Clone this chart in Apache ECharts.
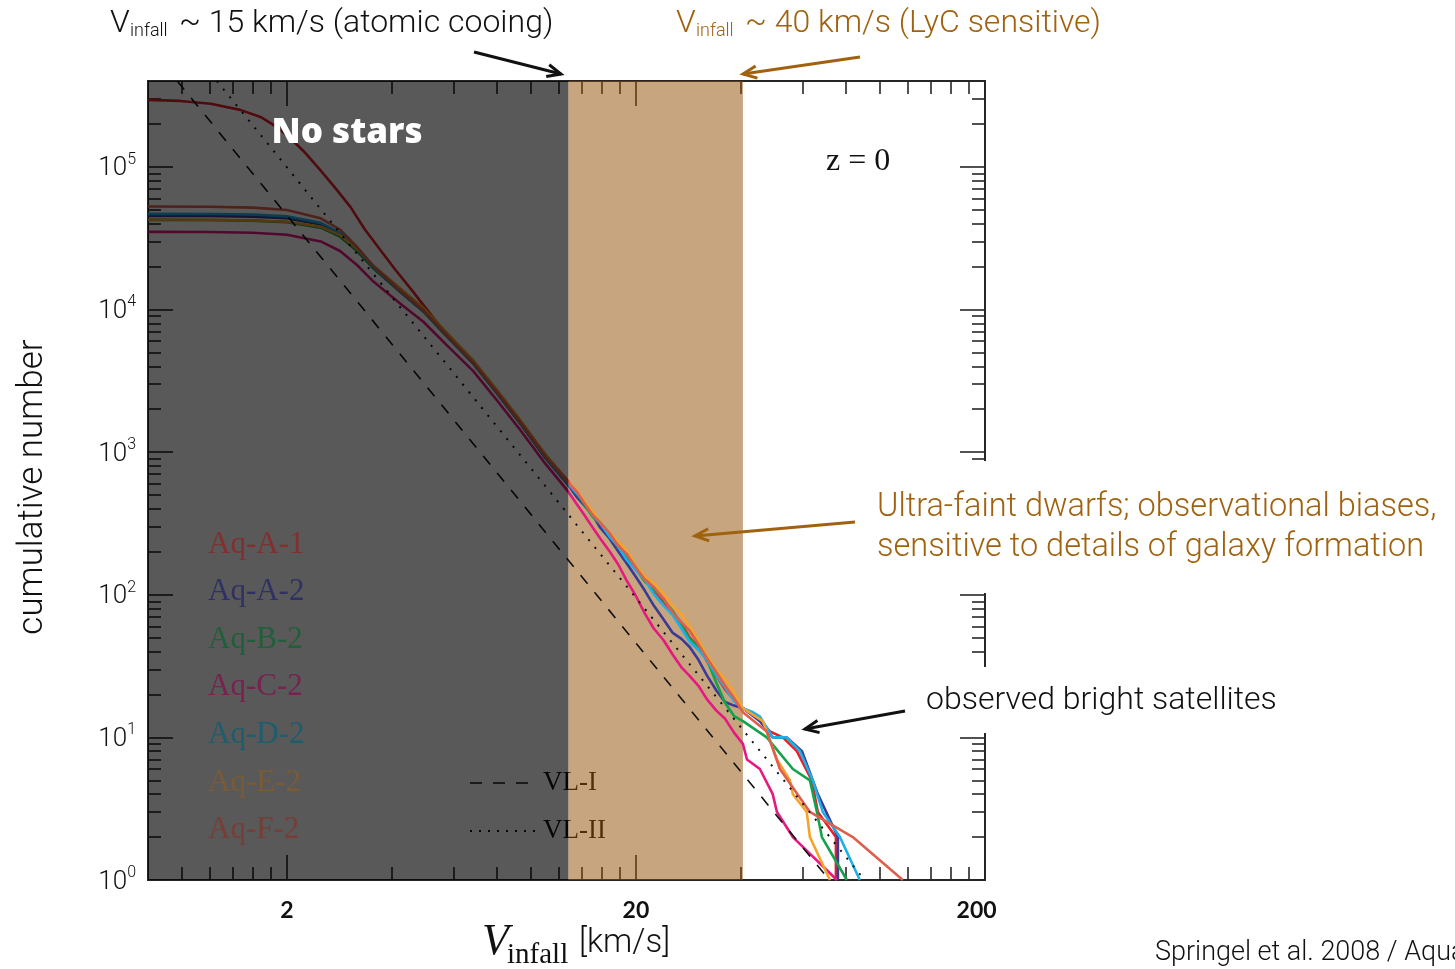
<!DOCTYPE html>
<html>
<head>
<meta charset="utf-8">
<script src="https://cdn.jsdelivr.net/npm/echarts@6/dist/echarts.min.js"></script>
<style>
  html, body { margin: 0; padding: 0; background: #ffffff; }
  #chart { width: 1455px; height: 969px; }
</style>
</head>
<body>
<div id="chart"></div>
<script>
// Cumulative number of subhalos above a given infall velocity, Aquarius halos at z = 0.

const halos = ['Aq-A-1', 'Aq-A-2', 'Aq-B-2', 'Aq-C-2', 'Aq-D-2', 'Aq-E-2', 'Aq-F-2'];

// infall velocity samples (km/s)
const vInner   = [0.8, 1.2, 1.6, 2.0, 2.5, 2.84, 3.17, 3.54, 4.22, 4.92, 5.75, 6.84, 8.0, 9.3, 11.0];
const vInnerA1 = [0.8, 0.99, 1.21, 1.47, 1.68, 1.85, 2.04, 2.26, 2.49, 2.75, 3.04, 3.35, 3.70, 4.09, 4.60, 5.75, 6.84, 8.0, 9.3, 11.0];
const vMid     = [12.8, 13.5, 14.2, 15.0, 15.8, 16.8, 17.8, 18.8, 20.0, 21.2, 22.5, 24.0, 25.5, 27.0, 28.5, 30.2, 32.0, 34.0, 36.0, 38.2, 40.5];

// Aq-A-1
const nInnerA1 = [295000, 290000, 277000, 251000, 224000, 194000, 160000, 125000, 95300, 71300, 52400, 36200, 26200, 19000, 13300, 6600, 4300, 2680, 1660, 960];
const nMidA1   = [624, 508, 443, 383, 310, 264, 227, 184, 154, 134, 107, 89, 76, 63, 50, 43.5, 34, 26.9, 21.7, 18.4, 16];
const vTailA1  = [44.4, 48.4, 52.7, 57.8, 63.8, 66.4, 74.8, 74.8];
const nTailA1  = [14, 11, 10, 8, 5, 3, 2, 1];
// Aq-A-2
const nInnerA2 = [45300, 45200, 44800, 43600, 39400, 33600, 26300, 19500, 13300, 9700, 6450, 4170, 2580, 1600, 910];
const nMidA2   = [588, 488, 425, 365, 295, 248, 201, 166, 133, 107, 84, 67, 54, 49, 43, 35, 27, 21.3, 17.7, 16.7, 16];
const vTailA2  = [45.3, 49.3, 54.1, 59.8, 64.2, 66.4, 75.8, 75.8];
const nTailA2  = [13, 10, 10, 8, 5, 4, 2, 1];
// Aq-B-2
const nInnerB2 = [42500, 42400, 42000, 41000, 37500, 32400, 25800, 19400, 13400, 9750, 6480, 4190, 2600, 1610, 920];
const nMidB2   = [600, 523, 434, 354, 316, 266, 214, 189, 151, 124, 109, 92, 77, 61, 49, 42.6, 34.7, 24.1, 17.5, 14.1, 13];
const vTailB2  = [47.4, 56.3, 63.0, 66.0, 68.2, 80.4];
const nTailB2  = [10, 6, 5, 3, 2, 1];
// Aq-C-2
const nInnerC2 = [35000, 34900, 34500, 33400, 30000, 25700, 20600, 15700, 11000, 8200, 5600, 3700, 2300, 1440, 830];
const nMidC2   = [528, 437, 365, 299, 248, 202, 163, 126, 98, 74, 58, 48, 38, 31, 27, 23, 18.4, 15.4, 13.5, 10.8, 9];
const vTailC2  = [41.6, 45.3, 49.3, 50.7, 56.3, 75.3];
const nTailC2  = [7, 6, 4, 3, 2, 1];
// Aq-D-2
const nInnerD2 = [46800, 46700, 46300, 45000, 40500, 34400, 26800, 19800, 13500, 9800, 6500, 4200, 2600, 1620, 930];
const nMidD2   = [600, 518, 451, 365, 319, 256, 218, 176, 148, 128, 101, 84, 72, 58, 47, 41, 34.7, 27.2, 22.4, 18.0, 16];
const vTailD2  = [43.3, 45.3, 49.3, 54.1, 59.0, 64.2, 68.6, 76.8, 87.6];
const nTailD2  = [15, 14, 10, 10, 8, 5, 3, 2, 1];
// Aq-E-2
const nInnerE2 = [42600, 42500, 42100, 41200, 38000, 33200, 26800, 20300, 14100, 10300, 6850, 4400, 2720, 1690, 965];
const nMidE2   = [612, 549, 456, 387, 322, 274, 235, 205, 161, 134, 121, 102, 83, 73, 60, 48, 37.4, 29.7, 25.5, 20.6, 16];
const vTailE2  = [46.2, 50.7, 55.2, 56.3, 61.7, 63.0, 71.9];
const nTailE2  = [13, 7, 5, 4, 3, 2, 1];
// Aq-F-2
const nInnerF2 = [52700, 52500, 51800, 49800, 43600, 36300, 27600, 20100, 13600, 9850, 6550, 4230, 2620, 1630, 935];
const nMidF2   = [612, 533, 443, 365, 322, 271, 220, 194, 155, 128, 113, 94, 75, 64, 56, 45, 35.7, 28.6, 23.1, 18.8, 15];
const vTailF2  = [47.4, 51.7, 63.0, 83.6, 116.3];
const nTailF2  = [11, 6, 3, 2, 1];

// Via Lactea I / II reference power laws (end points)
const vVL1 = [0.97, 71.6];
const nVL1 = [400000, 1];
const vVL2 = [1.26, 90.4];
const nVL2 = [400000, 1];

// shaded velocity ranges (km/s)
const noStarsRange = [0.8, 12.8];
const lycRange = [12.8, 40.5];

// axis ticks
const xMajorTicks = [2, 20, 200];
const xMinorTicks = [1, 1.2, 1.4, 1.6, 1.8, 4, 6, 8, 10, 12, 14, 16, 18, 40, 60, 80, 100, 120, 140, 160, 180];
const yMajorTicks = [1, 10, 100, 1000, 10000, 100000];
const yMinorTicks = [2, 3, 4, 5, 6, 7, 8, 9,
  20, 30, 40, 50, 60, 70, 80, 90,
  200, 300, 400, 500, 600, 700, 800, 900,
  2000, 3000, 4000, 5000, 6000, 7000, 8000, 9000,
  20000, 30000, 40000, 50000, 60000, 70000, 80000, 90000,
  200000, 300000];

const X_MIN = 0.8, X_MAX = 200, Y_MIN = 1, Y_MAX = 400000;

const lineColors = ['#e4222b', '#3d3a97', '#14a24b', '#e5197f', '#1bb0e8', '#f4a42a', '#df5f4e'];
const legendColors = ['#82302f', '#2f3164', '#215f3a', '#78224f', '#1d5d6e', '#7a5b36', '#763e36'];
const BROWN = '#a1620f';
const FRAME = '#262626';

function pts(vs, ns) { return vs.map((v, i) => [v, ns[i]]); }

const haloData = [
  pts(vInnerA1, nInnerA1).concat(pts(vMid, nMidA1), pts(vTailA1, nTailA1)),
  pts(vInner, nInnerA2).concat(pts(vMid, nMidA2), pts(vTailA2, nTailA2)),
  pts(vInner, nInnerB2).concat(pts(vMid, nMidB2), pts(vTailB2, nTailB2)),
  pts(vInner, nInnerC2).concat(pts(vMid, nMidC2), pts(vTailC2, nTailC2)),
  pts(vInner, nInnerD2).concat(pts(vMid, nMidD2), pts(vTailD2, nTailD2)),
  pts(vInner, nInnerE2).concat(pts(vMid, nMidE2), pts(vTailE2, nTailE2)),
  pts(vInner, nInnerF2).concat(pts(vMid, nMidF2), pts(vTailF2, nTailF2))
];

function xAxisDef(position, ticks, len, withLabels) {
  return {
    type: 'log', logBase: 10, min: X_MIN, max: X_MAX, position: position, gridIndex: 0,
    axisLine: { show: true, onZero: false, lineStyle: { color: FRAME, width: 2 } },
    axisTick: { show: true, inside: true, length: len, customValues: ticks, lineStyle: { color: FRAME, width: 1.6 } },
    axisLabel: withLabels ? {
      show: true, customValues: ticks, margin: 19,
      fontFamily: 'Lato', fontWeight: 'bold', fontSize: 23, color: '#111',
      formatter: v => (v === 200 ? '200   ' : String(v))
    } : { show: false },
    splitLine: { show: false }, minorTick: { show: false }
  };
}
function yAxisDef(position, ticks, len, withLabels) {
  return {
    type: 'log', logBase: 10, min: Y_MIN, max: Y_MAX, position: position, gridIndex: 0,
    axisLine: { show: true, onZero: false, lineStyle: { color: FRAME, width: 2 } },
    axisTick: { show: true, inside: true, length: len, customValues: ticks, lineStyle: { color: FRAME, width: 1.6 } },
    axisLabel: withLabels ? {
      show: true, customValues: ticks, margin: 12,
      formatter: v => '{b|10}{s|' + Math.round(Math.log10(v)) + '}',
      rich: {
        b: { fontFamily: 'Roboto', fontWeight: 300, fontSize: 26, color: '#111', lineHeight: 30, verticalAlign: 'bottom' },
        s: { fontFamily: 'Roboto', fontWeight: 300, fontSize: 16, color: '#111', lineHeight: 30, verticalAlign: 'top' }
      }
    } : { show: false },
    splitLine: { show: false }, minorTick: { show: false }
  };
}

const series = halos.map((name, i) => ({
  type: 'line', name: name, data: haloData[i], xAxisIndex: 0, yAxisIndex: 0,
  symbol: 'none', showSymbol: false, z: 2, clip: true,
  lineStyle: { color: lineColors[i], width: 2.6 }
}));

series.push({
  type: 'line', name: 'VL-I', data: pts(vVL1, nVL1), xAxisIndex: 0, yAxisIndex: 0,
  symbol: 'none', z: 2, clip: true,
  lineStyle: { color: '#111', width: 1.6, type: [11, 11] }
});
series.push({
  type: 'line', name: 'VL-II', data: pts(vVL2, nVL2), xAxisIndex: 0, yAxisIndex: 0,
  symbol: 'none', z: 2, clip: true,
  lineStyle: { color: '#111', width: 2, type: [2, 8] }
});

// tan band (above frame, below curves)
series.push({
  type: 'line', name: 'lyc-band', data: [], xAxisIndex: 0, yAxisIndex: 0, z: 1,
  markArea: {
    silent: true, z: 1,
    itemStyle: { color: 'rgba(141,75,0,0.5)' },
    data: [[{ coord: [lycRange[0], Y_MIN] }, { coord: [lycRange[1], Y_MAX] }]]
  }
});
// dark veil over the no-star range (above curves)
series.push({
  type: 'line', name: 'no-star-veil', data: [], xAxisIndex: 0, yAxisIndex: 0, z: 3,
  markArea: {
    silent: true, z: 3,
    itemStyle: { color: 'rgba(0,0,0,0.65)' },
    data: [[{ coord: [noStarsRange[0], Y_MIN] }, { coord: [noStarsRange[1], Y_MAX] }]]
  }
});

function arrow(x1, y1, x2, y2, color) {
  const a = Math.atan2(y2 - y1, x2 - x1), L = 15, w = 0.42;
  return [
    { type: 'line', z: 20, shape: { x1: x1, y1: y1, x2: x2, y2: y2 }, style: { stroke: color, lineWidth: 3 } },
    { type: 'polyline', z: 20, shape: { points: [
        [x2 - L * Math.cos(a - w), y2 - L * Math.sin(a - w)], [x2, y2],
        [x2 - L * Math.cos(a + w), y2 - L * Math.sin(a + w)] ] },
      style: { stroke: color, lineWidth: 3, fill: null } }
  ];
}

function txt(x, y, text, opts) {
  return { type: 'text', x: x, y: y, z: 20,
    style: Object.assign({ text: text, fill: '#111', fontFamily: 'Roboto', fontWeight: 300, fontSize: 30,
      align: 'left', verticalAlign: 'middle' }, opts || {}) };
}

const legendY = [545, 592, 640, 687, 735, 783, 830];
const graphics = [];

// halo legend
halos.forEach((name, i) => {
  graphics.push(txt(208, legendY[i], name, { fill: legendColors[i], fontFamily: 'Liberation Serif', fontWeight: 'normal', fontSize: 31 }));
});
// VL legend (drawn beneath the veils)
graphics.push({ type: 'line', z: 0, shape: { x1: 470, y1: 783, x2: 536, y2: 783 }, style: { stroke: '#111', lineWidth: 1.6, lineDash: [12, 11] } });
graphics.push({ type: 'line', z: 0, shape: { x1: 470, y1: 831, x2: 536, y2: 831 }, style: { stroke: '#111', lineWidth: 2, lineDash: [2, 7] } });
graphics.push(Object.assign(txt(543, 783, 'VL-I', { fill: '#111', fontFamily: 'Liberation Serif', fontWeight: 'normal', fontSize: 27 }), { z: 0 }));
graphics.push(Object.assign(txt(543, 831, 'VL-II', { fill: '#111', fontFamily: 'Liberation Serif', fontWeight: 'normal', fontSize: 27 }), { z: 0 }));

// panel labels
graphics.push(txt(347, 133, 'No stars', { fill: '#ffffff', fontFamily: 'Open Sans', fontWeight: 800, fontSize: 35, align: 'center' }));
graphics.push(txt(826, 162, 'z = 0', { fill: '#111', fontFamily: 'Liberation Serif', fontWeight: 'normal', fontSize: 32 }));

// gaps in the right frame behind the annotation text boxes
graphics.push({ type: 'rect', z: 15, shape: { x: 952, y: 461, width: 45, height: 132 }, style: { fill: '#ffffff' } });
graphics.push({ type: 'rect', z: 15, shape: { x: 952, y: 667, width: 45, height: 66 }, style: { fill: '#ffffff' } });

// top annotations
graphics.push(txt(110, 24, 'V', { fontSize: 32 }));
graphics.push(txt(130, 31, 'infall', { fontSize: 18 }));
graphics.push(txt(179, 24, '~ 15 km/s (atomic cooing)', { fontSize: 32 }));
graphics.push(txt(676, 24, 'V', { fontSize: 32, fill: BROWN }));
graphics.push(txt(696, 31, 'infall', { fontSize: 18, fill: BROWN }));
graphics.push(txt(745, 24, '~ 40 km/s (LyC sensitive)', { fontSize: 32, fill: BROWN }));
arrow(474, 52, 561, 74, '#111').forEach(g => graphics.push(g));
arrow(860, 57, 743, 74, BROWN).forEach(g => graphics.push(g));

// right-hand annotations
graphics.push(txt(877, 508, 'Ultra-faint dwarfs; observational biases,', { fill: BROWN, fontSize: 32.5 }));
graphics.push(txt(877, 548, 'sensitive to details of galaxy formation', { fill: BROWN, fontSize: 32.5 }));
arrow(855, 522, 695, 536, BROWN).forEach(g => graphics.push(g));
graphics.push(txt(926, 701, 'observed bright satellites', { fontSize: 32 }));
arrow(905, 711, 805, 729, '#111').forEach(g => graphics.push(g));

// credit
graphics.push(txt(1155, 953, 'Springel et al. 2008 / Aquarius', { fontSize: 27 }));

// axis titles
graphics.push(Object.assign(txt(33, 487, 'cumulative number', { fontSize: 35, align: 'center' }), { rotation: Math.PI / 2 }));
graphics.push(txt(482, 942, 'V', { fontFamily: 'Liberation Serif', fontStyle: 'italic', fontWeight: 'normal', fontSize: 44 }));
graphics.push(txt(507, 955, 'infall', { fontFamily: 'Liberation Serif', fontWeight: 'normal', fontSize: 29 }));
graphics.push(txt(579, 944, '[km/s]', { fontSize: 33 }));

const option = {
  animation: false,
  backgroundColor: '#ffffff',
  grid: { left: 148, top: 81, width: 837, height: 799, containLabel: false },
  xAxis: [
    xAxisDef('bottom', xMajorTicks, 25, true),
    xAxisDef('bottom', xMinorTicks, 13, false),
    xAxisDef('top', xMajorTicks, 25, false),
    xAxisDef('top', xMinorTicks, 13, false)
  ],
  yAxis: [
    yAxisDef('left', yMajorTicks, 25, true),
    yAxisDef('left', yMinorTicks, 13, false),
    yAxisDef('right', yMajorTicks, 25, false),
    yAxisDef('right', yMinorTicks, 13, false)
  ],
  series: series,
  graphic: { elements: graphics }
};

const chart = echarts.init(document.getElementById('chart'));
chart.setOption(option);
</script>
</body>
</html>
